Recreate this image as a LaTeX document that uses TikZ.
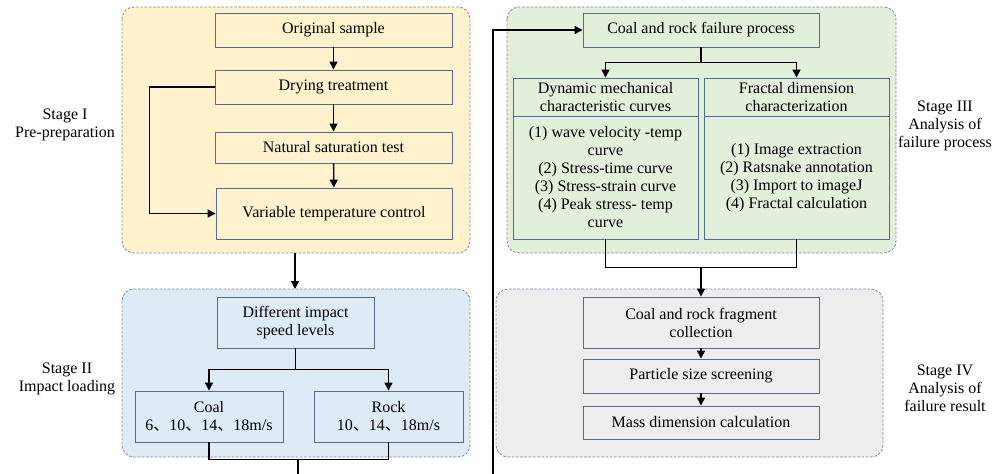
\documentclass[tikz,border=0pt]{standalone}
\usepackage{fontspec}
\setmainfont{Liberation Serif}
\newfontfamily\cjk{Noto Sans CJK SC}
\usetikzlibrary{arrows.meta}
\definecolor{prepbg}{HTML}{FFF2CC}
\definecolor{loadbg}{HTML}{DEEBF7}
\definecolor{procbg}{HTML}{E2EFDA}
\definecolor{resbg}{HTML}{EDEDED}
\definecolor{boxline}{HTML}{5A6B87}
\definecolor{panelline}{HTML}{7F8A9C}
\newcommand{\dun}{{\cjk 、}}
\begin{document}
\begin{tikzpicture}
[x=0.75pt,y=-0.75pt,
boxwd/.style={minimum width=#1*0.75pt},
boxht/.style={minimum height=#1*0.75pt}
]
\tikzset{every node/.style={font=\fontsize{12}{13.5}\selectfont,align=center}}
\tikzset{box/.style={draw=boxline,line width=0.7pt,inner sep=1pt},
         panel/.style={draw=panelline,line width=0.6pt,dash pattern=on 2pt off 1.2pt,rounded corners=9pt},
         arr/.style={draw,line width=1pt,-{Triangle[length=6pt,width=6pt]}},
         link/.style={draw,line width=1pt}}
\clip (0,0) rectangle (1003,474);
\useasboundingbox (0,0) rectangle (1003,474);
% Stage I
\draw[panel,fill=prepbg] (122,7) rectangle (470,253);
\node[box,fill=prepbg,boxwd=237,boxht=34] (orig) at (333.5,30) {Original sample};
\node[box,fill=prepbg,boxwd=237,boxht=34] (dry) at (333.5,87) {Drying treatment};
\node[box,fill=prepbg,boxwd=237,boxht=31] (sat) at (333.5,147.5) {Natural saturation test};
\node[box,fill=prepbg,boxwd=236,boxht=51] (vtc) at (334,213.5) {Variable temperature control};
\node (st1) at (65,125) {Stage I\\Pre-preparation};
\path[arr] (orig) -- (dry);
\path[arr] (dry) -- (sat);
\path[arr] (sat) -- (vtc);
\path[arr] (dry.west) -- ++(-65,0) |- (vtc.west);
% Stage II
\draw[panel,fill=loadbg] (122,289) rectangle (470,457);
\node[box,fill=loadbg,boxwd=157,boxht=51] (speed) at (295.5,322.5) {Different impact\\speed levels};
\node[box,fill=loadbg,boxwd=148,boxht=51] (coal) at (209,416.5) {Coal\\6\dun10\dun14\dun18m/s};
\node[box,fill=loadbg,boxwd=149,boxht=51] (rock) at (388.5,416.5) {Rock\\10\dun14\dun18m/s};
\node (st2) at (67,379) {Stage II\\Impact loading};
\coordinate (out1) at (295,253);
\coordinate (in2) at (295,289);
\path[arr] (out1) -- (in2);
\path[link] (speed.south) -- ++(0,21) coordinate (fork2);
\path[arr] (fork2) -| (coal.north);
\path[arr] (fork2) -| (rock.north);
\path[link] (coal.south) -- ++(0,17) -| (rock.south);
\coordinate (join2) at (298,459);
% Stage III
\draw[panel,fill=procbg] (507,7) rectangle (896,253);
\node[box,fill=procbg,boxwd=236,boxht=34] (fail) at (701,30) {Coal and rock failure process};
\node[box,fill=procbg,boxwd=185,boxht=38] (dynT) at (605.5,97) {Dynamic mechanical\\characteristic curves};
\node[box,fill=procbg,boxwd=185,boxht=123] (dynB) at (605.5,177.5) {(1) wave velocity -temp\\curve\\(2) Stress-time curve\\(3) Stress-strain curve\\(4) Peak stress- temp\\curve};
\node[box,fill=procbg,boxwd=185,boxht=38] (fracT) at (796.5,97) {Fractal dimension\\characterization};
\node[box,fill=procbg,boxwd=185,boxht=123] (fracB) at (796.5,177.5) {(1) Image extraction\\(2) Ratsnake annotation\\(3) Import to imageJ\\(4) Fractal calculation};
\node (st3) at (945,126) {Stage III\\Analysis of\\failure process};
\path[arr] (join2) -- (298,480) -- (493,480) |- (fail.west);
\path[link] (fail.south) -- ++(0,15) coordinate (fork3);
\path[arr] (fork3) -| (dynT.north);
\path[arr] (fork3) -| (fracT.north);
\path[link] (dynB.south) -- ++(0,28) -| (fracB.south);
\coordinate (join3) at (701,267);
% Stage IV
\draw[panel,fill=resbg] (496,289) rectangle (883,457);
\node[box,fill=resbg,boxwd=236,boxht=51] (frag) at (701,322.5) {Coal and rock fragment\\collection};
\node[box,fill=resbg,boxwd=236,boxht=34] (sieve) at (701,376) {Particle size screening};
\node[box,fill=resbg,boxwd=236,boxht=33] (mass) at (701,422.5) {Mass dimension calculation};
\node (st4) at (945,388) {Stage IV\\Analysis of\\failure result};
\path[arr] (join3) -- (frag.north);
\path[arr] (frag) -- (sieve);
\path[arr] (sieve) -- (mass);
\end{tikzpicture}
\end{document}
